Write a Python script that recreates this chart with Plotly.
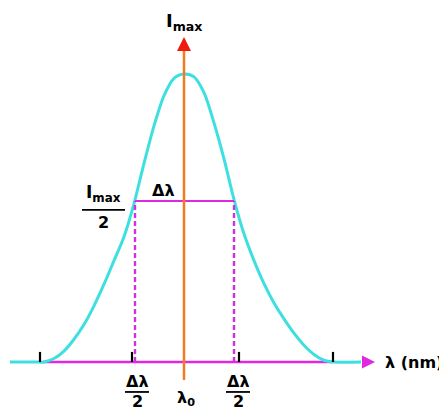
import plotly.graph_objects as go

# line profile, x = wavelength offset from lambda0, y = relative intensity
curve_x = [-17.4, -15.0, -14.0, -13.0, -12.0, -11.0, -10.0, -9.0, -8.0, -7.0,
           -6.0, -5.0, -4.0, -3.0, -2.0, -1.0, 0.0, 1.0, 2.0, 3.0, 4.0, 5.0,
           6.0, 7.0, 8.0, 9.0, 10.0, 11.0, 12.0, 13.0, 14.0, 15.0, 17.7]
curve_y = [0.0, 0.0, 0.0, 0.012, 0.038, 0.079, 0.13, 0.195, 0.27, 0.352,
           0.435, 0.55, 0.69, 0.82, 0.925, 0.985, 1.0, 0.99, 0.935, 0.83, 0.705, 0.564,
           0.445, 0.352, 0.272, 0.205, 0.15, 0.10, 0.058, 0.026, 0.006, 0.0, 0.0]

half_level = 0.559
fwhm_left = -4.9
fwhm_right = 5.0
base_start, base_end = -14.1, 14.9
arrow_x_tip = 19.1
axis_bottom, axis_top = -0.0625, 1.128
tick_x = [-14.4, -5.2, 5.5, 14.9]

CYAN = '#3EDFE0'
MAGENTA = '#E028E0'
DASH = '#CC35DC'
ORANGE = '#F47A1F'
RED = '#EE1C0E'
FONT = 'DejaVu Sans'

fig = go.Figure()

# baseline (lambda axis)
fig.add_trace(go.Scatter(x=[base_start, base_end], y=[0, 0], mode='lines',
                         line=dict(color=MAGENTA, width=2.5)))

# the profile
fig.add_trace(go.Scatter(x=curve_x, y=curve_y, mode='lines',
                         line=dict(color=CYAN, width=3, shape='spline', smoothing=0.8)))

fig.add_trace(go.Scatter(x=[arrow_x_tip], y=[0], mode='markers',
                         marker=dict(symbol='arrow-right', size=13, color=MAGENTA,
                                     line=dict(width=0))))

# FWHM
fig.add_trace(go.Scatter(x=[fwhm_left, fwhm_right], y=[half_level, half_level],
                         mode='lines', line=dict(color=MAGENTA, width=2)))
for xv in [fwhm_left, fwhm_right]:
    fig.add_trace(go.Scatter(x=[xv, xv], y=[0, half_level], mode='lines',
                             line=dict(color=DASH, width=2.4, dash='5px,3px')))

# intensity axis
fig.add_trace(go.Scatter(x=[0, 0], y=[axis_bottom, axis_top - 0.045], mode='lines',
                         line=dict(color=ORANGE, width=2.5)))
fig.add_trace(go.Scatter(x=[0], y=[axis_top], mode='markers',
                         marker=dict(symbol='arrow-up', size=14, color=RED,
                                     line=dict(width=0))))

for xv in tick_x:
    fig.add_shape(type='line', x0=xv, x1=xv, y0=0, y1=0.035,
                  line=dict(color='black', width=2.2))

txt = dict(family=FONT, size=16, color='black')

fig.add_annotation(x=0, y=1.18, text='<b>I<sub>max</sub></b>', showarrow=False,
                   font=dict(family=FONT, size=18, color='black'))
fig.add_annotation(x=-2.1, y=0.597, text='<b>Δλ</b>', showarrow=False, font=txt)
fig.add_annotation(x=19.9, y=0, text='<b>λ (nm)</b>', showarrow=False, font=txt,
                   xanchor='left')
fig.add_annotation(x=0.2, y=-0.128, text='<b>λ<sub>0</sub></b>', showarrow=False, font=txt)

# Imax / 2 on the left
fig.add_annotation(x=-8.1, y=0.585, text='<b>I<sub>max</sub></b>', showarrow=False,
                   font=dict(family=FONT, size=17, color='black'))
fig.add_shape(type='line', x0=-10.2, x1=-5.9, y0=0.528, y1=0.528,
              line=dict(color='black', width=1.8))
fig.add_annotation(x=-8.1, y=0.486, text='<b>2</b>', showarrow=False, font=txt)

# Δλ / 2 under the axis
for xc in [-4.7, 5.4]:
    fig.add_annotation(x=xc, y=-0.066, text='<b>Δλ</b>', showarrow=False, font=txt)
    fig.add_shape(type='line', x0=xc - 1.2, x1=xc + 1.2, y0=-0.104, y1=-0.104,
                  line=dict(color='black', width=1.8))
    fig.add_annotation(x=xc, y=-0.136, text='<b>2</b>', showarrow=False, font=txt)

# the page body keeps an 8px margin, so the ranges are shifted to compensate
fig.update_layout(
    width=447, height=410, autosize=False,
    margin=dict(l=0, r=0, t=0, b=0),
    showlegend=False,
    plot_bgcolor='white', paper_bgcolor='white',
    xaxis=dict(visible=False, range=[-17.6, 27.1], fixedrange=True),
    yaxis=dict(visible=False, range=[-0.1944, 1.229], fixedrange=True),
)

fig.write_html("out.html", config={'displayModeBar': False})
